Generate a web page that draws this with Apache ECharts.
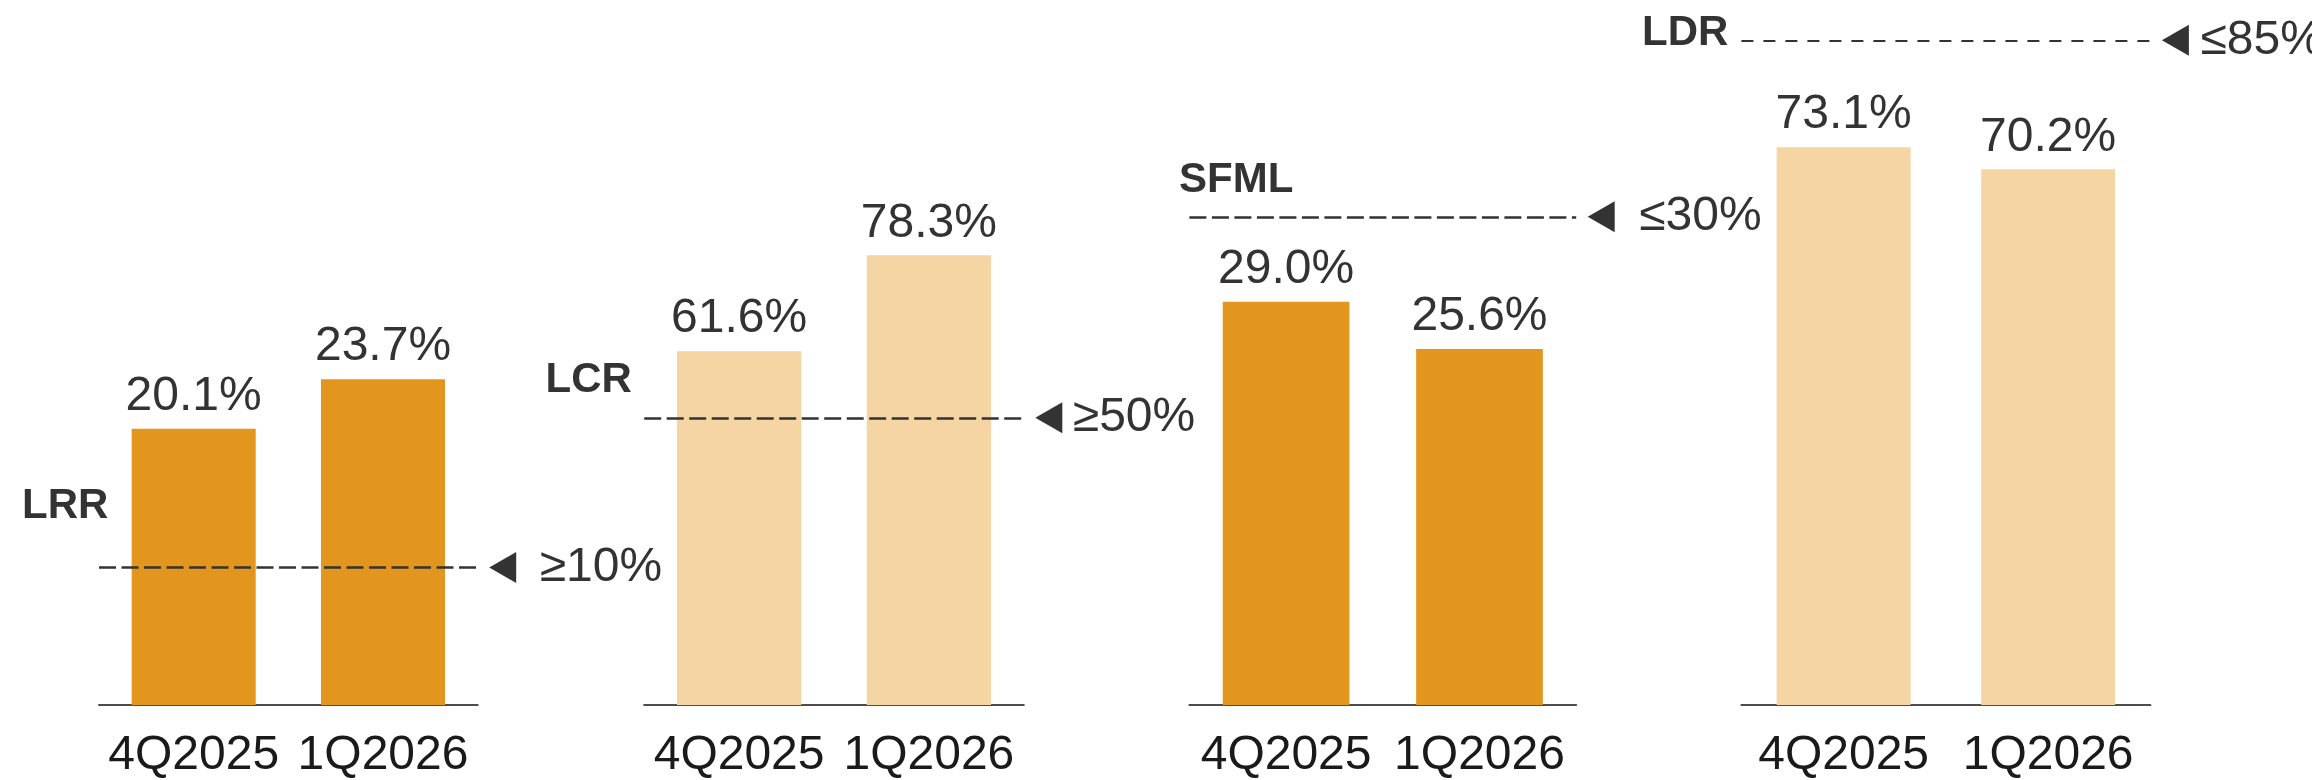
<!DOCTYPE html>
<html><head><meta charset="utf-8">
<script src="https://cdn.jsdelivr.net/npm/echarts@6/dist/echarts.min.js"></script>
<style>html,body{margin:0;padding:0;background:#fff}#c{width:2312px;height:780px}</style>
</head><body><div id="c"></div>
<script>
const categories = ['4Q2025', '1Q2026'];
const metricNames = ['LRR', 'LCR', 'SFML', 'LDR'];
const lrrValues = [20.1, 23.7];
const lcrValues = [61.6, 78.3];
const sfmlValues = [29.0, 25.6];
const ldrValues = [73.1, 70.2];
const thresholdLabels = ['≥10%', '≥50%', '≤30%', '≤85%'];
// level (on each panel's own % scale) at which the dashed limit line sits in the picture
const thresholdLineLevels = [10, 50, 35.1, 87.1];

const panelValues = [lrrValues, lcrValues, sfmlValues, ldrValues];
const FONT = '"Liberation Sans", Arial, Helvetica, sans-serif';
const DARK = '#E2961E', LIGHT = '#F4D5A3';
const panels = [
  {left: 99,     width: 378.7, max: 49.82,  color: DARK,  nameX: 22,     nameY: 506,   dash: [17, 5.5], lw: 2.5, tDist: 62},
  {left: 644.2,  width: 379.6, max: 119.28, color: LIGHT, nameX: 545.6,  nameY: 380.4, dash: [17, 5.5], lw: 2.5, tDist: 49},
  {left: 1189.4, width: 386.8, max: 49.25,  color: DARK,  nameX: 1179,   nameY: 180,   dash: [17, 5.5], lw: 2.5, tDist: 63},
  {left: 1741.4, width: 409,   max: 89.77,  color: LIGHT, nameX: 1642,   nameY: 33,    dash: [12, 10],  lw: 2.2, tDist: 50}
];

const grid = [], xAxis = [], yAxis = [], series = [], graphic = [];
panels.forEach((p, i) => {
  grid.push({left: p.left, width: p.width, top: 20, bottom: 67, containLabel: false});
  xAxis.push({
    type: 'category', gridIndex: i, data: categories,
    axisLine: {show: true, lineStyle: {color: '#4d4d4d', width: 2}},
    axisTick: {show: false},
    axisLabel: {fontSize: 48, fontFamily: FONT, color: '#1a1a1a', margin: 27, interval: 0}
  });
  yAxis.push({
    type: 'value', gridIndex: i, min: 0, max: p.max,
    show: false, splitLine: {show: false}
  });
  series.push({
    type: 'bar', xAxisIndex: i, yAxisIndex: i,
    data: panelValues[i], barWidth: '65.5%',
    itemStyle: {color: p.color},
    label: {
      show: true, position: 'top', distance: 8,
      fontSize: 48, fontFamily: FONT, color: '#333',
      formatter: (d) => d.value.toFixed(1) + '%'
    },
    markLine: {
      silent: true,
      symbol: ['none', 'path://M0,5L10,0L10,10Z'],
      symbolSize: [27, 31],
      symbolRotate: 0,
      symbolOffset: [0, [25, 0]],
      lineStyle: {type: p.dash, width: p.lw, color: '#333'},
      label: {
        show: true, position: 'end', distance: p.tDist,
        fontSize: 48, fontFamily: FONT, color: '#333',
        formatter: thresholdLabels[i]
      },
      emphasis: {disabled: true},
      animation: false,
      data: [{yAxis: thresholdLineLevels[i]}]
    }
  });
  graphic.push({
    type: 'text', x: p.nameX, y: p.nameY, silent: true,
    style: {
      text: metricNames[i], fontSize: 42, fontWeight: 'bold', fontFamily: FONT,
      fill: '#333', align: 'left', verticalAlign: 'middle'
    }
  });
});

const chart = echarts.init(document.getElementById('c'), null, {renderer: 'canvas'});
chart.setOption({
  animation: false,
  backgroundColor: '#fff',
  grid, xAxis, yAxis, series, graphic
});
</script></body></html>
